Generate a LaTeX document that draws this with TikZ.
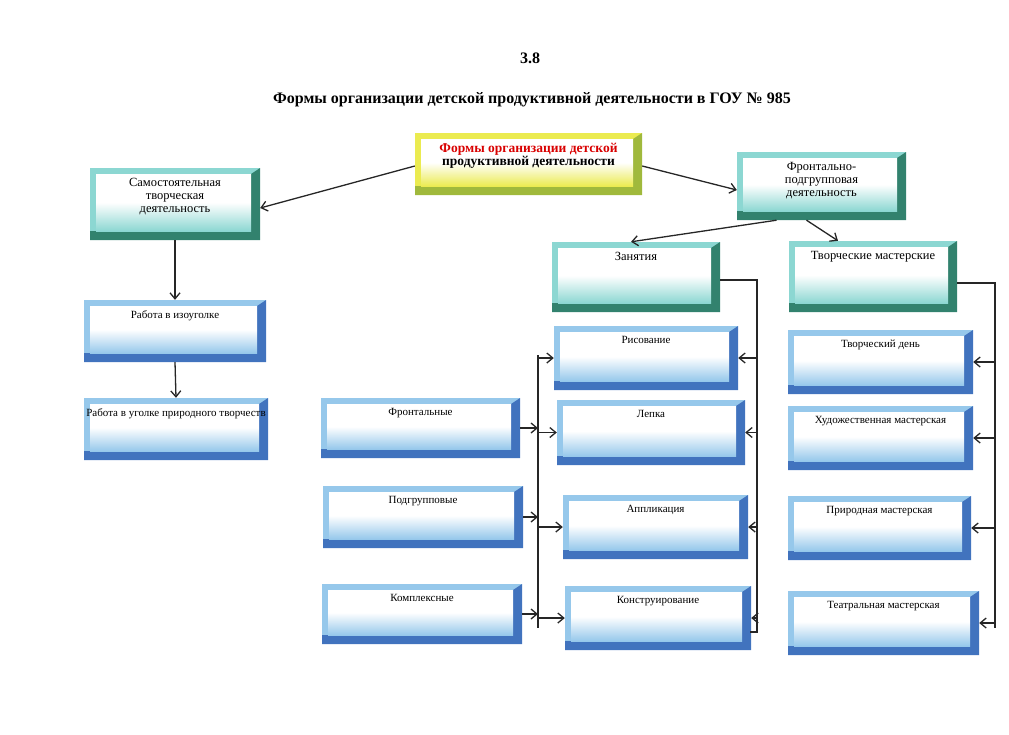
\documentclass[tikz,border=0pt]{standalone}
\usepackage{fontspec}
\setmainfont{Liberation Serif}
\usetikzlibrary{arrows.meta}
\definecolor{tealdark}{RGB}{50,130,110}
\definecolor{teallight}{RGB}{140,215,210}
\definecolor{bluedark}{RGB}{65,115,190}
\definecolor{bluelight}{RGB}{150,200,235}
\definecolor{yeldark}{RGB}{160,185,60}
\definecolor{yellight}{RGB}{235,235,80}
\tikzset{
  bevel/.style n args={2}{rectangle, inner sep=0pt, fill=#2,
    path picture={
      \fill[#1] ([yshift=9pt]path picture bounding box.south west) -- (path picture bounding box.south west)
        -- (path picture bounding box.south east) -- (path picture bounding box.north east)
        -- ([xshift=-9pt,yshift=-6pt]path picture bounding box.north east)
        -- ([xshift=-9pt,yshift=9pt]path picture bounding box.south east) -- cycle;
      \shade[top color=white, bottom color=#2, middle color=white]
      ([xshift=6pt,yshift=-6pt]path picture bounding box.north west) rectangle
      ([xshift=-9pt,yshift=9pt]path picture bounding box.south east);}},
  link/.style={-{Straight Barb[length=6pt,width=10pt]}, line width=1.3pt, draw=black!85},
  bus/.style={line width=1.8pt, draw=black!85},
  lbl/.style={font=\fontsize{11}{13}\selectfont, align=center}
}
% box: name, x1, y1, x2, y2, dark, light, text
\newcommand{\bbox}[8]{%
  \node[bevel={#6}{#7}, minimum width=#4pt-#2pt, minimum height=#5pt-#3pt,
    label={[lbl, anchor=north, yshift=-7pt]north:#8}]
    (#1) at ({(#2+#4)/2},{(#3+#5)/2}) {};}
\begin{document}
\begin{tikzpicture}[x=1pt,y=-1pt]
\useasboundingbox (0,0) rectangle (1009,734);

\node[font=\bfseries\fontsize{16}{18}\selectfont] (num) at (530,58) {3.8};
\node[font=\bfseries\fontsize{16}{18}\selectfont] (title) at (532,100)
  {Формы организации детской продуктивной деятельности в ГОУ № 985};

\bbox{main}{415}{133}{642}{195}{yeldark}{yellight}{\color{red!85!black}\bfseries\fontsize{13.5}{16}\selectfont Формы организации детской\\\bfseries\fontsize{13.5}{16}\selectfont продуктивной деятельности}
\bbox{samost}{90}{168}{260}{240}{tealdark}{teallight}{\fontsize{12.5}{15}\selectfont Самостоятельная\\\fontsize{12.5}{15}\selectfont творческая\\\fontsize{12.5}{15}\selectfont деятельность}
\bbox{front}{737}{152}{906}{220}{tealdark}{teallight}{\fontsize{12.5}{15}\selectfont Фронтально-\\\fontsize{12.5}{15}\selectfont подгрупповая\\\fontsize{12.5}{15}\selectfont деятельность}
\bbox{zan}{552}{242}{720}{312}{tealdark}{teallight}{\fontsize{12.5}{15}\selectfont Занятия}
\bbox{master}{789}{241}{957}{312}{tealdark}{teallight}{\fontsize{12.5}{15}\selectfont Творческие мастерские}

\bbox{izo}{84}{300}{266}{362}{bluedark}{bluelight}{Работа в изоуголке}
\bbox{ugol}{84}{398}{268}{460}{bluedark}{bluelight}{Работа в уголке природного творчеств}
\bbox{frontal}{321}{398}{520}{458}{bluedark}{bluelight}{Фронтальные}
\bbox{podgr}{323}{486}{523}{548}{bluedark}{bluelight}{Подгрупповые}
\bbox{kompl}{322}{584}{522}{644}{bluedark}{bluelight}{Комплексные}

\bbox{ris}{554}{326}{738}{390}{bluedark}{bluelight}{Рисование}
\bbox{lepka}{557}{400}{745}{465}{bluedark}{bluelight}{Лепка}
\bbox{appl}{563}{495}{748}{559}{bluedark}{bluelight}{Аппликация}
\bbox{konstr}{565}{586}{751}{650}{bluedark}{bluelight}{Конструирование}

\bbox{den}{788}{330}{973}{394}{bluedark}{bluelight}{Творческий день}
\bbox{hud}{788}{406}{973}{470}{bluedark}{bluelight}{Художественная мастерская}
\bbox{prir}{788}{496}{971}{560}{bluedark}{bluelight}{Природная мастерская}
\bbox{teatr}{788}{591}{979}{655}{bluedark}{bluelight}{Театральная мастерская}

% upper links
\draw[link] ([yshift=-2pt]main.west) -- ([yshift=-4pt]samost.east);
\draw[link] ([yshift=-2pt]main.east) -- ([yshift=-4pt]front.west);
\draw[link] ([xshift=-45pt]front.south) -- ([xshift=-5pt]zan.north);
\draw[link] ([xshift=-15pt]front.south) -- ([xshift=-35pt]master.north);
\draw[link] (samost.south) -- (izo.north);
\draw[link] (izo.south) -- (ugol.north);

% left bus
\coordinate (lbt) at (538,355);
\coordinate (lbb) at (538,628);
\draw[bus] (lbt) -- (lbb);
\foreach \b in {ris,lepka,appl,konstr}
  \draw[link] (lbt |- \b.west) -- (\b.west);
\foreach \b in {frontal,podgr,kompl}
  \draw[link] (\b.east) -- (lbt |- \b.east);

% right bus of zan
\coordinate (zbt) at (757,280);
\coordinate (zbb) at (757,632);
\draw[bus] (zan.east |- zbt) -- (zbt) -- (zbb) -- ++(-7,0);
\foreach \b in {ris,lepka,appl,konstr}
  \draw[link] (zbt |- \b.east) -- (\b.east);

% right bus of master
\coordinate (mbt) at (995,283);
\coordinate (mbb) at (995,628);
\draw[bus] (master.east |- mbt) -- (mbt) -- (mbb);
\foreach \b in {den,hud,prir,teatr}
  \draw[link] (mbt |- \b.east) -- (\b.east);
\end{tikzpicture}
\end{document}
